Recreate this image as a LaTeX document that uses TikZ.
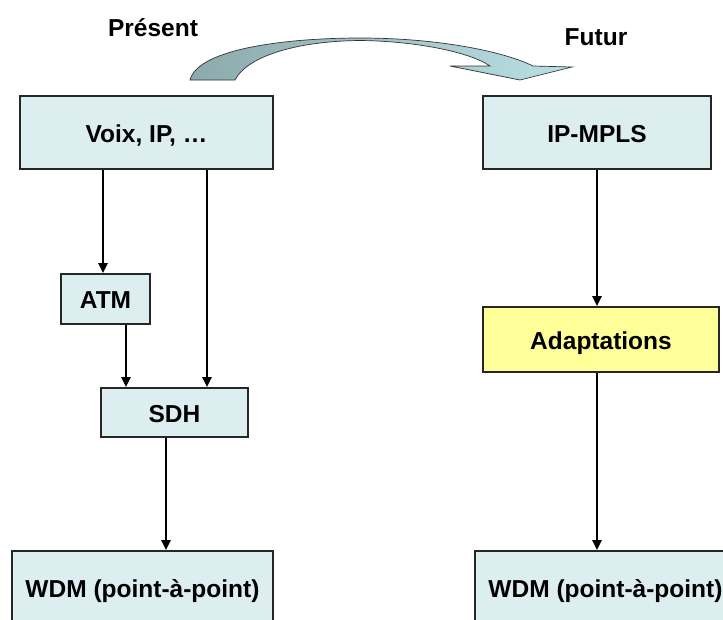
\documentclass[tikz,border=0pt]{standalone}
\usepackage{fontspec}
\setmainfont{Liberation Sans}
\usetikzlibrary{arrows.meta}
\definecolor{boxfill}{RGB}{221,238,240}
\definecolor{boxyellow}{RGB}{255,255,153}
\definecolor{bandleft}{RGB}{140,170,172}
\definecolor{bandright}{RGB}{185,224,228}
\tikzset{
  box/.style={draw=black!85, line width=1.8pt, fill=boxfill, inner sep=0pt,
              text height=24pt, text depth=5pt,
              font=\bfseries\fontsize{24.5}{28}\selectfont},
  title/.style={font=\bfseries\fontsize{24.5}{28}\selectfont, inner sep=0pt},
  arr/.style={line width=2.6pt, -{Triangle[length=10pt,width=9pt]}},
}
\begin{document}
\begin{tikzpicture}[x=1pt,y=-1pt]
  \clip (0,0) rectangle (723,619);
  \fill[white] (0,0) rectangle (723,619);

  % titles
  \node[title] (present) at (153,28) {Présent};
  \node[title] (futur) at (596,37) {Futur};

  % curved transition band with arrow head
  \shade[left color=bandleft, right color=bandright, draw=black!80, line width=0.7pt]
    (190,80) .. controls (198,48) and (290,38) .. (360,38)
             .. controls (440,38) and (505,52) .. (533,66)
    -- (572,67) -- (520,80) -- (450,66) -- (490,66)
             .. controls (470,52) and (415,41) .. (360,40.5)
             .. controls (300,41) and (248,55) .. (235,80) -- cycle;

  % present stack
  \node[box, minimum width=253pt, minimum height=73pt] (voix) at (146.5,132.5) {Voix, IP, …};
  \node[box, minimum width=89pt, minimum height=50pt] (atm) at (105.5,299) {ATM};
  \node[box, minimum width=147pt, minimum height=49pt] (sdh) at (174.5,412.5) {SDH};
  \node[box, minimum width=261pt, minimum height=73pt] (wdmL) at (142.5,587.5) {WDM (point-à-point)};

  % future stack
  \node[box, minimum width=228pt, minimum height=73pt] (mpls) at (597,132.5) {IP-MPLS};
  \node[box, fill=boxyellow, minimum width=236pt, minimum height=65pt] (adapt) at (601,339.5) {Adaptations};
  \node[box, minimum width=261pt, minimum height=73pt] (wdmR) at (605.5,587.5) {WDM (point-à-point)};

  % connectors
  \draw[arr] ([xshift=-43.5pt]voix.south) -- ([xshift=-43.5pt]voix.south |- atm.north);
  \draw[arr] ([xshift=60.5pt]voix.south) -- ([xshift=60.5pt]voix.south |- sdh.north);
  \draw[arr] ([xshift=20.5pt]atm.south) -- ([xshift=20.5pt]atm.south |- sdh.north);
  \draw[arr] ([xshift=-8.5pt]sdh.south) -- ([xshift=-8.5pt]sdh.south |- wdmL.north);
  \draw[arr] (mpls.south) -- (mpls.south |- adapt.north);
  \draw[arr] ([xshift=-4pt]adapt.south) -- ([xshift=-4pt]adapt.south |- wdmR.north);
\end{tikzpicture}
\end{document}
